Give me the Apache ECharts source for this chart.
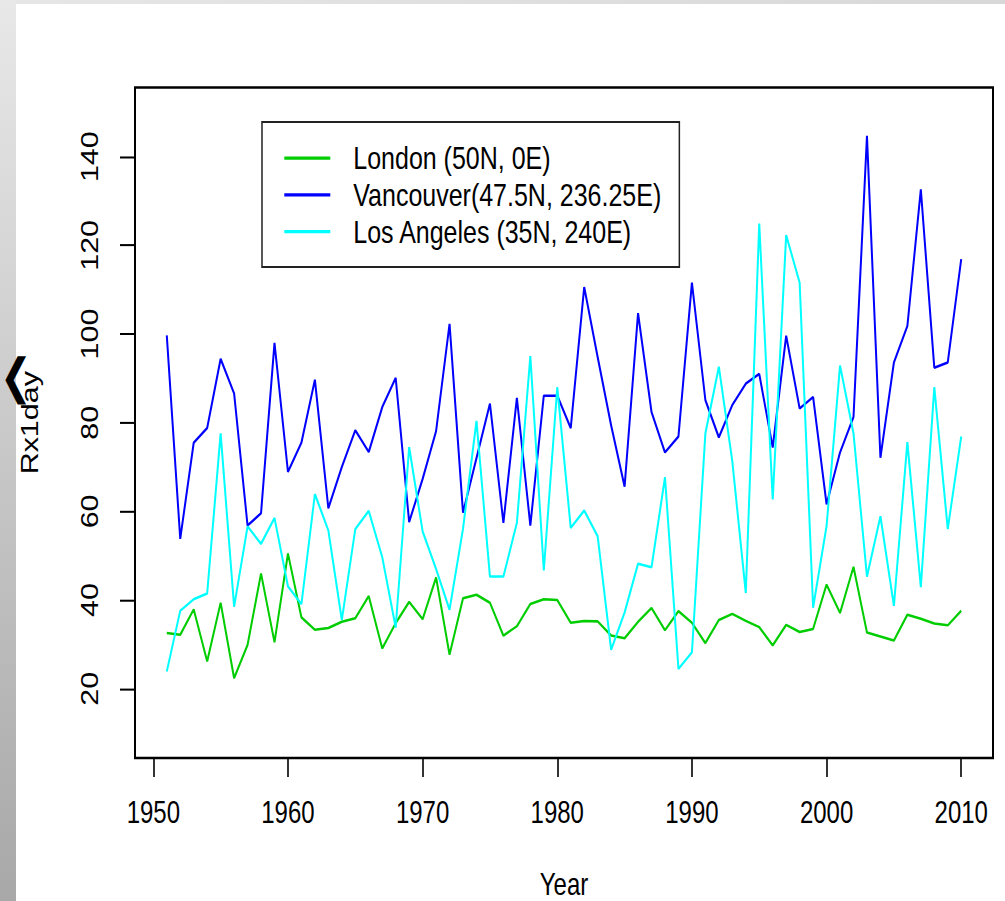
<!DOCTYPE html>
<html>
<head>
<meta charset="utf-8">
<script src="https://cdn.jsdelivr.net/npm/echarts@6/dist/echarts.min.js"></script>
<style>
  html, body { margin: 0; padding: 0; width: 1005px; height: 901px; overflow: hidden; background: #fff; }
  #edgeTop { position: absolute; left: 0; top: 0; width: 1005px; height: 4px; background: linear-gradient(to right, #e6e6e6, #d8d8d8); }
  #edgeLeft { position: absolute; left: 0; top: 0; width: 16px; height: 901px; background: linear-gradient(to bottom, #e8e8e8, #a8a8a8); }
  /* the plot is laid out in a shorter box and stretched vertically */
  #chart { position: absolute; left: 0; top: 0; width: 1005px; height: 709.45px; transform: scaleY(1.27); transform-origin: 0 0; }
</style>
</head>
<body>
<div id="edgeTop"></div>
<div id="edgeLeft"></div>
<div id="chart"></div>
<script>
// Annual maximum one-day precipitation (Rx1day), 1951-2010
const years = [
  1951, 1952, 1953, 1954, 1955, 1956, 1957, 1958, 1959, 1960,
  1961, 1962, 1963, 1964, 1965, 1966, 1967, 1968, 1969, 1970,
  1971, 1972, 1973, 1974, 1975, 1976, 1977, 1978, 1979, 1980,
  1981, 1982, 1983, 1984, 1985, 1986, 1987, 1988, 1989, 1990,
  1991, 1992, 1993, 1994, 1995, 1996, 1997, 1998, 1999, 2000,
  2001, 2002, 2003, 2004, 2005, 2006, 2007, 2008, 2009, 2010
];

const london = [
  32.6, 32.2, 37.9, 26.2, 39.4, 22.4, 29.9, 46.0, 30.5, 50.5,
  36.1, 33.3, 33.7, 35.1, 35.9, 40.9, 29.1, 34.8, 39.6, 35.7,
  45.1, 27.7, 40.4, 41.2, 39.4, 32.0, 34.1, 39.1, 40.2, 40.0,
  34.9, 35.3, 35.2, 32.0, 31.4, 35.1, 38.2, 33.2, 37.5, 34.9,
  30.3, 35.5, 36.9, 35.3, 33.9, 29.8, 34.4, 32.8, 33.5, 43.5,
  37.1, 47.5, 32.7, 31.8, 30.9, 36.7, 35.8, 34.7, 34.3, 37.6
];

const vancouver = [
  99.7, 53.8, 75.5, 78.8, 94.4, 86.6, 56.8, 59.6, 98.0, 68.9,
  75.5, 89.7, 60.7, 70.0, 78.3, 73.4, 83.5, 90.1, 57.6, 67.3,
  78.1, 102.3, 59.7, 72.0, 84.3, 57.4, 85.6, 56.8, 86.1, 86.1,
  78.8, 110.6, 94.8, 79.4, 65.6, 104.7, 82.4, 73.3, 76.9, 111.6,
  85.1, 76.7, 84.0, 88.8, 91.0, 74.4, 99.6, 83.2, 85.8, 61.6,
  73.3, 81.3, 144.7, 72.1, 93.6, 101.8, 132.6, 92.4, 93.6, 116.9
];

const losAngeles = [
  23.9, 37.6, 40.2, 41.5, 77.6, 38.5, 56.6, 52.7, 58.5, 43.1,
  39.1, 63.9, 55.7, 35.5, 56.0, 60.1, 49.7, 33.8, 74.5, 55.5,
  47.0, 37.8, 56.1, 80.4, 45.3, 45.3, 57.4, 95.0, 46.7, 88.0,
  56.3, 60.2, 54.4, 28.8, 37.2, 48.2, 47.4, 67.7, 24.5, 28.2,
  77.6, 92.6, 71.3, 41.6, 124.9, 62.7, 122.3, 111.6, 38.3, 56.7,
  92.9, 77.6, 45.3, 58.9, 38.7, 75.6, 42.9, 88.0, 56.0, 76.9
];

const seriesNames = ['London (50N, 0E)', 'Vancouver(47.5N, 236.25E)', 'Los Angeles (35N, 240E)'];
const seriesColors = ['#00cd00', '#0000ff', '#00ffff'];
const xTicks = [1950, 1960, 1970, 1980, 1990, 2000, 2010];
const yTicks = [20, 40, 60, 80, 100, 120, 140];

const FONT = '"Liberation Sans", Arial, Helvetica, sans-serif';

function pairs(values) {
  return values.map((v, i) => [years[i], v]);
}

const chart = echarts.init(document.getElementById('chart'), null, { renderer: 'svg' });

chart.setOption({
  animation: false,
  backgroundColor: 'transparent',
  grid: {
    left: 135, right: 12, top: 68.9, bottom: 112.2,
    outerBoundsMode: 'none',
    show: true, borderColor: '#000', borderWidth: 2, backgroundColor: 'transparent'
  },
  xAxis: {
    type: 'value',
    min: 1948.64, max: 2012.36,
    name: 'Year', nameLocation: 'middle', nameGap: 99.7,
    nameTextStyle: { fontSize: 24, color: '#000', fontFamily: FONT, verticalAlign: 'middle' },
    axisLine: { show: false },
    axisTick: { show: true, length: 15, lineStyle: { color: '#000', width: 1.6 }, customValues: xTicks },
    axisLabel: {
      customValues: xTicks, margin: 43, verticalAlign: 'middle',
      fontSize: 24, color: '#000', fontFamily: FONT,
      formatter: v => String(v)
    },
    splitLine: { show: false }
  },
  yAxis: {
    type: 'value',
    min: 4.4, max: 155.6,
    name: 'Rx1day', nameLocation: 'middle', nameGap: 105,
    nameTextStyle: { fontSize: 24, color: '#000', fontFamily: FONT, verticalAlign: 'middle' },
    axisLine: { show: false },
    axisTick: { show: true, length: 15, lineStyle: { color: '#000', width: 1.6 }, customValues: yTicks },
    axisLabel: {
      customValues: yTicks, rotate: 90, margin: 45.5, verticalAlign: 'middle',
      fontSize: 24, color: '#000', fontFamily: FONT,
      formatter: v => String(v)
    },
    splitLine: { show: false }
  },
  legend: {
    orient: 'vertical',
    left: 262, top: 96.1,
    padding: [14, 18, 13.4, 22.3],
    itemGap: 0, itemWidth: 46, itemHeight: 2.6,
    icon: 'rect',
    borderColor: '#222', borderWidth: 1.5,
    textStyle: { fontSize: 25, lineHeight: 28.9, color: '#000', fontFamily: FONT, padding: [0, 0, 0, 18] },
    data: seriesNames
  },
  graphic: [{
    type: 'text',
    style: { text: '\u276E', x: 0, y: 296.5, align: 'left', verticalAlign: 'middle', fontSize: 38, fill: '#000', fontFamily: '"DejaVu Sans", sans-serif' }
  }],
  series: [
    { name: seriesNames[0], type: 'line', data: pairs(london), color: seriesColors[0], symbol: 'none', lineStyle: { width: 2 } },
    { name: seriesNames[1], type: 'line', data: pairs(vancouver), color: seriesColors[1], symbol: 'none', lineStyle: { width: 2 } },
    { name: seriesNames[2], type: 'line', data: pairs(losAngeles), color: seriesColors[2], symbol: 'none', lineStyle: { width: 2 } }
  ]
});
</script>
</body>
</html>
